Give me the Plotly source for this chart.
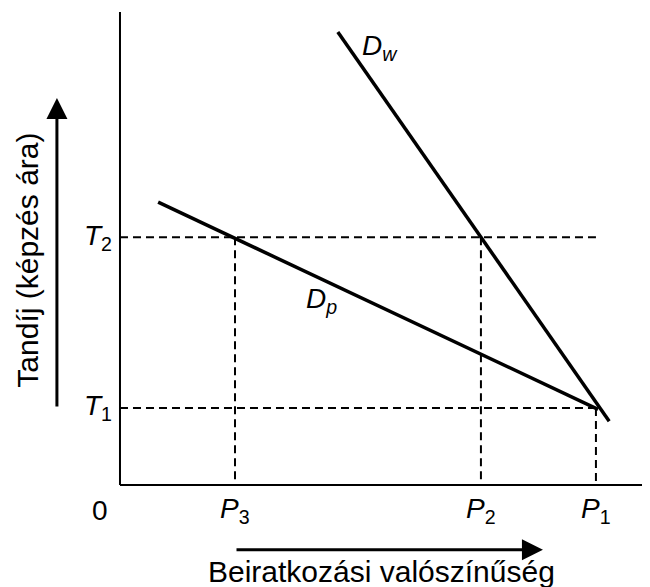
import plotly.graph_objects as go

# ---- data (model units: x = enrolment probability 0..1, y = tuition) ----
P_labels = ["P3", "P2", "P1"]
P_values = [0.217, 0.681, 0.898]      # P3, P2, P1
T_labels = ["T1", "T2"]
T_values = [0.163, 0.524]             # T1, T2

Dw_x = [0.411, 0.923]
Dw_y = [0.958, 0.135]
Dp_x = [0.072, 0.902]
Dp_y = [0.598, 0.160]

axis_top = 1.0
axis_right = 1.0

P3, P2, P1 = P_values
T1, T2 = T_values

FONT = "Liberation Sans, Arial, sans-serif"
FS = 28
FS_TITLE = 30

fig = go.Figure()

def add_line(xs, ys, width, dash=None):
    fig.add_trace(go.Scatter(
        x=xs, y=ys, mode="lines",
        line=dict(color="black", width=width, dash=dash),
        hoverinfo="skip", showlegend=False))

# axes
add_line([0, 0], [axis_top, 0], 2)
add_line([0, axis_right + 0.05], [0, 0], 2)

# dashed guides
dash = "8px,5px"
add_line([0, P1], [T2, T2], 2, dash)
add_line([0, P1], [T1, T1], 2, dash)
add_line([P3, P3], [T2, 0], 2, dash)
add_line([P2, P2], [T2, 0], 2, dash)
add_line([P1, P1], [T1, 0], 2, dash)

# demand curves
add_line(Dw_x, Dw_y, 3.5)
add_line(Dp_x, Dp_y, 3.5)

def sub_label(name):
    return "<i>%s</i><sub>%s</sub>" % (name[0], name[1:])

annotations = []
# P tick labels
for lab, v in zip(P_labels, P_values):
    annotations.append(dict(x=v, y=-0.053, text=sub_label(lab), showarrow=False,
                            font=dict(family=FONT, size=FS, color="black"),
                            xanchor="center", yanchor="middle"))
# T tick labels
for lab, v in zip(T_labels, T_values):
    annotations.append(dict(x=-0.042, y=v, text=sub_label(lab), showarrow=False,
                            font=dict(family=FONT, size=FS, color="black"),
                            xanchor="center", yanchor="middle"))
# 0 and 1
annotations.append(dict(x=-0.038, y=-0.053, text="0", showarrow=False,
                        font=dict(family=FONT, size=FS, color="black")))
annotations.append(dict(x=axis_right - 0.008, y=-0.053, text="1", showarrow=False,
                        xanchor="left",
                        font=dict(family=FONT, size=FS, color="black")))
# curve labels
annotations.append(dict(x=0.49, y=0.925, text="<i>D<sub>w</sub></i>", showarrow=False,
                        font=dict(family=FONT, size=FS, color="black")))
annotations.append(dict(x=0.38, y=0.39, text="<i>D<sub>p</sub></i>", showarrow=False,
                        font=dict(family=FONT, size=FS, color="black")))
# axis titles
annotations.append(dict(x=-0.174, y=0.476, text="Tandíj (képzés ára)", textangle=-90,
                        showarrow=False, font=dict(family=FONT, size=FS_TITLE, color="black")))
annotations.append(dict(x=0.4925, y=-0.183, text="Beiratkozási valószínűség",
                        showarrow=False, font=dict(family=FONT, size=FS_TITLE, color="black")))
# arrows
annotations.append(dict(x=-0.119, y=0.818, ax=-0.119, ay=0.163, axref="x", ayref="y",
                        xref="x", yref="y", text="", showarrow=True,
                        arrowhead=2, arrowsize=1.4, arrowwidth=3, arrowcolor="black"))
annotations.append(dict(x=0.798, y=-0.137, ax=0.217, ay=-0.137, axref="x", ayref="y",
                        xref="x", yref="y", text="", showarrow=True,
                        arrowhead=2, arrowsize=1.4, arrowwidth=3, arrowcolor="black"))

# the page has an 8px body margin, so the figure is 8px smaller and its
# ranges start 8px further in
fig.update_layout(
    width=642, height=579,
    margin=dict(l=0, r=0, t=0, b=0),
    paper_bgcolor="white", plot_bgcolor="white",
    xaxis=dict(range=[-0.2113, 1.0], visible=False, fixedrange=True),
    yaxis=dict(range=[-0.2156, 1.0085], visible=False, fixedrange=True),
    annotations=annotations,
    showlegend=False,
)

fig.write_html("out.html")
